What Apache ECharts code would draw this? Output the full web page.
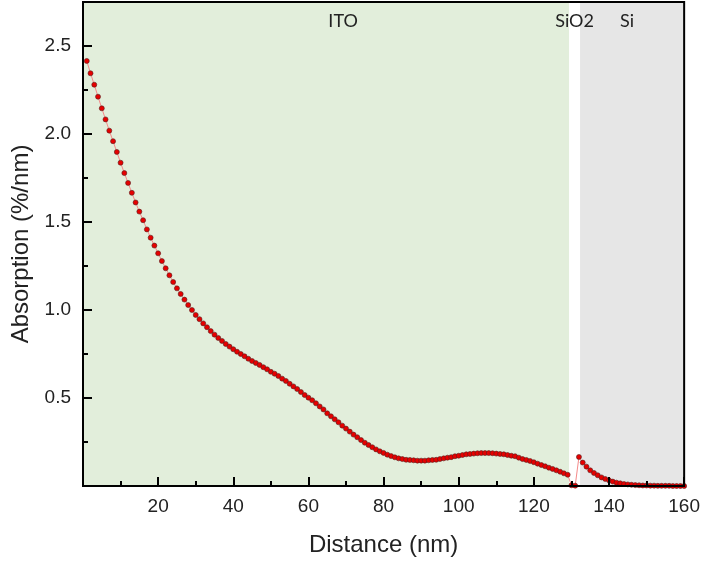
<!DOCTYPE html>
<html>
<head>
<meta charset="utf-8">
<script src="https://cdn.jsdelivr.net/npm/echarts@6/dist/echarts.min.js"></script>
<style>html,body{margin:0;padding:0;background:#fff;}#c{width:703px;height:562px;}</style>
</head>
<body>
<div id="c"></div>
<script>
// Distance (nm)
const distance = [
  1,2,3,4,5,6,7,8,9,10,11,12,13,14,15,16,17,18,19,20,
  21,22,23,24,25,26,27,28,29,30,31,32,33,34,35,36,37,38,39,40,
  41,42,43,44,45,46,47,48,49,50,51,52,53,54,55,56,57,58,59,60,
  61,62,63,64,65,66,67,68,69,70,71,72,73,74,75,76,77,78,79,80,
  81,82,83,84,85,86,87,88,89,90,91,92,93,94,95,96,97,98,99,100,
  101,102,103,104,105,106,107,108,109,110,111,112,113,114,115,116,117,118,119,120,
  121,122,123,124,125,126,127,128,129,130,131,132,133,134,135,136,137,138,139,140,
  141,142,143,144,145,146,147,148,149,150,151,152,153,154,155,156,157,158,159,160
];
// Absorption (%/nm)
const absorption = [
  2.415,2.345,2.280,2.212,2.146,2.083,2.019,1.959,1.898,1.837,
  1.778,1.722,1.666,1.611,1.559,1.510,1.458,1.411,1.366,1.322,
  1.278,1.237,1.197,1.159,1.123,1.091,1.059,1.028,1.000,0.972,
  0.948,0.924,0.902,0.880,0.860,0.841,0.824,0.807,0.792,0.777,
  0.763,0.750,0.737,0.723,0.710,0.699,0.688,0.675,0.663,0.649,
  0.638,0.625,0.610,0.597,0.581,0.566,0.551,0.534,0.517,0.502,
  0.487,0.470,0.452,0.435,0.413,0.396,0.379,0.362,0.343,0.326,
  0.309,0.292,0.277,0.261,0.246,0.233,0.220,0.208,0.197,0.188,
  0.178,0.170,0.163,0.157,0.153,0.149,0.148,0.146,0.144,0.144,
  0.144,0.146,0.148,0.149,0.153,0.157,0.161,0.164,0.169,0.172,
  0.176,0.180,0.182,0.184,0.186,0.187,0.187,0.187,0.186,0.184,
  0.182,0.180,0.176,0.172,0.169,0.161,0.153,0.148,0.142,0.135,
  0.127,0.119,0.112,0.104,0.097,0.089,0.081,0.072,0.064,0.004,
  0.002,0.165,0.133,0.110,0.089,0.074,0.061,0.049,0.040,0.032,
  0.025,0.019,0.015,0.011,0.009,0.007,0.005,0.004,0.003,0.003,
  0.002,0.002,0.001,0.001,0.001,0.001,0.000,0.000,0.000,0.000
];
// Layer regions
const layerNames = ['ITO', 'SiO2', 'Si'];
const layerStart = [0, 129.4, 132.3];
const layerEnd = [129.4, 132.3, 160];
const layerColors = ['#e2eedb', '#ffffff', '#e6e6e6'];
const layerLabelOffset = [[17, 0], [0, 0], [-5, 0]];

const xTicks = {min: 0, max: 160, interval: 20};
const yTicks = {min: 0, max: 2.75, interval: 0.5};

const points = distance.map((d, i) => [d, absorption[i]]);

const chart = echarts.init(document.getElementById('c'), null, {renderer: 'canvas'});
const areas = layerNames.map((n, i) => [
  {name: n, xAxis: layerStart[i], itemStyle: {color: layerColors[i]},
   label: {offset: layerLabelOffset[i]}},
  {xAxis: layerEnd[i]}
]);

const axisCommon = {
  z: 10,
  axisLine: {show: true, lineStyle: {color: '#000', width: 2}},
  axisTick: {show: true, inside: true, length: 9, lineStyle: {color: '#000', width: 2}},
  minorTick: {show: true, splitNumber: 2, length: 5, lineStyle: {color: '#000', width: 2}},
  splitLine: {show: false},
  nameTextStyle: {fontFamily: 'Liberation Sans', fontSize: 24, color: '#222'}
};

chart.setOption({
  animation: false,
  grid: {left: 83, right: 18, top: 2, bottom: 76, show: true, borderColor: '#000', borderWidth: 2, backgroundColor: 'transparent', z: 10},
  xAxis: Object.assign({}, axisCommon, {
    type: 'value', min: xTicks.min, max: xTicks.max, interval: xTicks.interval,
    name: 'Distance (nm)', nameLocation: 'middle', nameGap: 47,
    axisLabel: {fontFamily: 'Liberation Sans', fontSize: 19, color: '#222', margin: 11,
      formatter: v => v === 0 ? '' : String(v)}
  }),
  yAxis: Object.assign({}, axisCommon, {
    type: 'value', min: yTicks.min, max: yTicks.max, interval: yTicks.interval,
    name: 'Absorption (%/nm)', nameLocation: 'middle', nameGap: 44,
    axisLabel: {fontFamily: 'Liberation Sans', fontSize: 19, color: '#222', margin: 12,
      formatter: v => {
        if (v === 0) return '';
        const k = v / yTicks.interval;
        if (Math.abs(k - Math.round(k)) > 1e-6) return '';
        return v.toFixed(1);
      }}
  }),
  series: [{
    type: 'line',
    data: points,
    clip: false,
    symbol: 'circle',
    symbolSize: 5,
    lineStyle: {color: '#f58a8a', width: 1},
    itemStyle: {color: '#e60000', borderColor: '#552020', borderWidth: 0.6},
    z: 3,
    markArea: {
      silent: true,
      z: 1,
      label: {show: true, position: 'insideTop', distance: 10, fontFamily: 'Lato', fontSize: 18, color: '#222'},
      data: areas
    }
  }]
});
</script>
</body>
</html>
